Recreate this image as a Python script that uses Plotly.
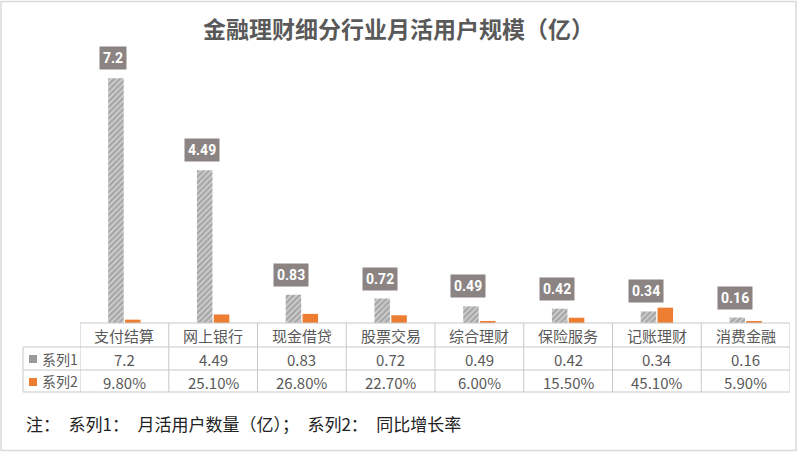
import plotly.graph_objects as go

# data
categories = ['支付结算', '网上银行', '现金借贷', '股票交易', '综合理财', '保险服务', '记账理财', '消费金融']
users = [7.2, 4.49, 0.83, 0.72, 0.49, 0.42, 0.34, 0.16]        # 系列1: 月活用户数量（亿）
growth = [9.8, 25.1, 26.8, 22.7, 6.0, 15.5, 45.1, 5.9]          # 系列2: 同比增长率 (%)
users_text = ['7.2', '4.49', '0.83', '0.72', '0.49', '0.42', '0.34', '0.16']
growth_text = ['9.80%', '25.10%', '26.80%', '22.70%', '6.00%', '15.50%', '45.10%', '5.90%']

W, H = 797, 452
ORANGE = '#ed7d31'
LINE = '#c8c8c8'
TXT = '#595959'
CJK = 'Noto Sans CJK SC, Noto Sans, sans-serif'

def py(pix):  # pixel row -> paper y
    return 1 - pix / H

def px(pix):  # pixel column -> paper x
    return pix / W

fig = go.Figure()
fig.add_trace(go.Bar(
    x=categories, y=users, name='系列1',
    marker=dict(color='white', line=dict(width=0),
                pattern=dict(shape='/', fgcolor='#7a7a7a', bgcolor='#d0d0d0', size=4, solidity=0.55)),
))
fig.add_trace(go.Bar(
    x=categories, y=[g / 100 for g in growth], name='系列2',
    marker=dict(color=ORANGE, line=dict(width=0)),
))

# value boxes above the hatched bars
for c, v, t in zip(categories, users, users_text):
    fig.add_annotation(x=c, y=v, xref='x', yref='y', text='<b>%s</b>' % t, showarrow=False,
                       xshift=-11, yshift=8, yanchor='bottom',
                       font=dict(family='Roboto, Liberation Sans, sans-serif', size=14, color='white'),
                       bgcolor='#8b8483', borderpad=3)

# data table under the plot
y_top, y_r1, y_r2, y_bot = 323, 347, 370, 392
shapes = []
n = len(categories)
shapes.append(dict(type='line', xref='x', yref='paper', x0=-0.5, x1=n - 0.5, y0=py(y_top), y1=py(y_top)))
for yy in (y_r1, y_r2, y_bot):
    shapes.append(dict(type='line', xref='paper', yref='paper', x0=px(23), x1=px(790), y0=py(yy), y1=py(yy)))
for i in range(n + 1):
    shapes.append(dict(type='line', xref='x', yref='paper', x0=i - 0.5, x1=i - 0.5, y0=py(y_top), y1=py(y_bot)))
shapes.append(dict(type='line', xref='paper', yref='paper', x0=px(23), x1=px(23), y0=py(y_r1), y1=py(y_bot)))
for s in shapes:
    s['line'] = dict(color=LINE, width=1)

# legend keys inside the table
shapes.append(dict(type='rect', xref='paper', yref='paper', x0=px(29), x1=px(37), y0=py(363), y1=py(355),
                   fillcolor='#9a9a9a', line=dict(width=0)))
shapes.append(dict(type='rect', xref='paper', yref='paper', x0=px(29), x1=px(37), y0=py(386), y1=py(378),
                   fillcolor=ORANGE, line=dict(width=0)))
# outer frame
shapes.append(dict(type='rect', xref='paper', yref='paper', x0=px(1), x1=px(796), y0=py(450.5), y1=py(1.5),
                   line=dict(color='#d9d9d9', width=1.5)))
fig.update_layout(shapes=shapes)

def cell(x, y, text, xref='x', xanchor='center', size=15):
    fig.add_annotation(x=x, y=py(y), xref=xref, yref='paper', text=text, showarrow=False,
                       xanchor=xanchor, yanchor='middle', font=dict(family=CJK, size=size, color=TXT))

for c in categories:
    cell(c, (y_top + y_r1) / 2, c)
for c, t in zip(categories, users_text):
    cell(c, (y_r1 + y_r2) / 2 + 1, t)
for c, t in zip(categories, growth_text):
    cell(c, (y_r2 + y_bot) / 2 + 1, t)
cell(px(40), (y_r1 + y_r2) / 2, '系列1', xref='paper', xanchor='left', size=14)
cell(px(40), (y_r2 + y_bot) / 2, '系列2', xref='paper', xanchor='left', size=14)

fig.add_annotation(x=px(24), y=py(423), xref='paper', yref='paper', showarrow=False,
                   xanchor='left', yanchor='middle',
                   text='注：\u2002系列1：\u2002月活用户数量（亿）；\u2002系列2：\u2002同比增长率',
                   font=dict(family=CJK, size=17, color='#222222'))

fig.update_layout(
    title=dict(text='<b>金融理财细分行业月活用户规模（亿）</b>', x=0.5, xanchor='center',
               y=py(30), yanchor='middle', font=dict(family=CJK, size=23, color=TXT)),
    width=W, height=H,
    margin=dict(l=0, r=0, t=0, b=0),
    paper_bgcolor='white', plot_bgcolor='white',
    showlegend=False,
    barmode='group', bargap=0.62, bargroupgap=0.08,
    xaxis=dict(domain=[px(80), px(790)], range=[-0.5, n - 0.5], visible=False),
    yaxis=dict(domain=[py(y_top), 1], range=[0, y_top / 34.0], visible=False),
)

fig.write_html('out.html', config={'displayModeBar': False},
               post_script="document.body.style.margin='0';")
